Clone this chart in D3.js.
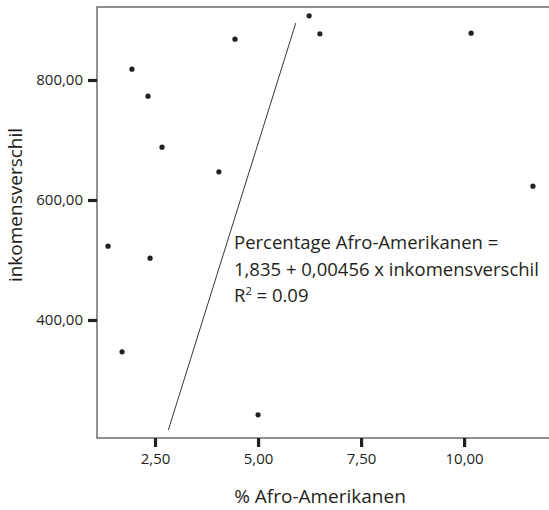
<!DOCTYPE html>
<html>
<head>
<meta charset="utf-8">
<script src="https://cdn.jsdelivr.net/npm/d3@7"></script>
<style>
  body { margin: 0; background: #fff; }
  svg { display: block; overflow: hidden; }
  text { font-family: "Open Sans", sans-serif; fill: #231f20; }
</style>
</head>
<body>
<svg id="chart"></svg>
<script>
// % Afro-Amerikanen (x) vs inkomensverschil (y)
var pctAfro = [1.94, 2.33, 2.67, 1.36, 2.38, 1.70, 4.44, 6.24, 6.50, 10.17, 11.67, 4.05, 5.00];
var inkomen = [818, 773, 688, 523, 503, 347, 868, 907, 877, 878, 623, 647, 242];
var xTicks = [2.5, 5, 7.5, 10];
var yTicks = [400, 600, 800];
// fit: pct = 1.835 + 0.00456 * inkomen
var fitA = 1.835, fitB = 0.00456;
var fitRange = [217, 895];
var eqLines = ["Percentage Afro-Amerikanen =", "1,835 + 0,00456 x inkomensverschil"];

var W = 549, H = 510;
var pLeft = 97, pTop = 7, pBottom = 438, pRight = 549;

var svg = d3.select("#chart").attr("width", W).attr("height", H);

var x = d3.scaleLinear().domain([1.092, 12.06]).range([pLeft, pRight]);
var y = d3.scaleLinear().domain([203.3, 921.7]).range([pBottom, pTop]);

var fmt = function (d) { return d3.format(".2f")(d).replace(".", ","); };

// frame
svg.append("path")
    .attr("d", `M${pRight},${pTop}H${pLeft}V${pBottom}H${pRight}`)
    .attr("fill", "none")
    .attr("stroke", "#6d6d6d")
    .attr("stroke-width", 1.5);

// x axis
var xAxis = svg.append("g")
    .attr("transform", `translate(0, ${pBottom})`)
    .call(d3.axisBottom(x).tickValues(xTicks).tickFormat(fmt).tickSize(9).tickPadding(6));
xAxis.select(".domain").remove();
xAxis.selectAll(".tick line").attr("stroke", "#231f20").attr("stroke-width", 3.2);
xAxis.selectAll(".tick text").style("font-size", "15px").attr("fill", "#231f20");

// y axis
var yAxis = svg.append("g")
    .attr("transform", `translate(${pLeft}, 0)`)
    .call(d3.axisLeft(y).tickValues(yTicks).tickFormat(fmt).tickSize(9).tickPadding(5));
yAxis.select(".domain").remove();
yAxis.selectAll(".tick line").attr("stroke", "#231f20").attr("stroke-width", 3.2);
yAxis.selectAll(".tick text").style("font-size", "15px").attr("fill", "#231f20");

// fit line
svg.append("line")
    .attr("x1", x(fitA + fitB * fitRange[0])).attr("y1", y(fitRange[0]))
    .attr("x2", x(fitA + fitB * fitRange[1])).attr("y2", y(fitRange[1]))
    .attr("stroke", "#231f20")
    .attr("stroke-width", 0.9);

// points
svg.append("g")
    .selectAll("circle")
    .data(pctAfro)
    .join("circle")
    .attr("cx", d => x(d))
    .attr("cy", (d, i) => y(inkomen[i]))
    .attr("r", 2.6)
    .attr("fill", "#231f20");

// equation
var eq = svg.append("g").style("font-size", "18.5px");
eq.selectAll("text.eq")
    .data(eqLines)
    .join("text")
    .attr("class", "eq")
    .attr("x", 234)
    .attr("y", (d, i) => 249 + i * 27)
    .text(d => d);
var r2 = eq.append("text").attr("x", 234).attr("y", 302);
r2.append("tspan").text("R");
r2.append("tspan").attr("dy", -7).style("font-size", "11px").text("2");
r2.append("tspan").attr("dy", 7).text(" = 0.09");

// axis titles
svg.append("text")
    .attr("x", 320).attr("y", 503)
    .attr("text-anchor", "middle")
    .style("font-size", "19px")
    .text("% Afro-Amerikanen");

svg.append("text")
    .attr("transform", "translate(22, 205) rotate(-90)")
    .attr("text-anchor", "middle")
    .style("font-size", "19px")
    .text("inkomensverschil");
</script>
</body>
</html>
